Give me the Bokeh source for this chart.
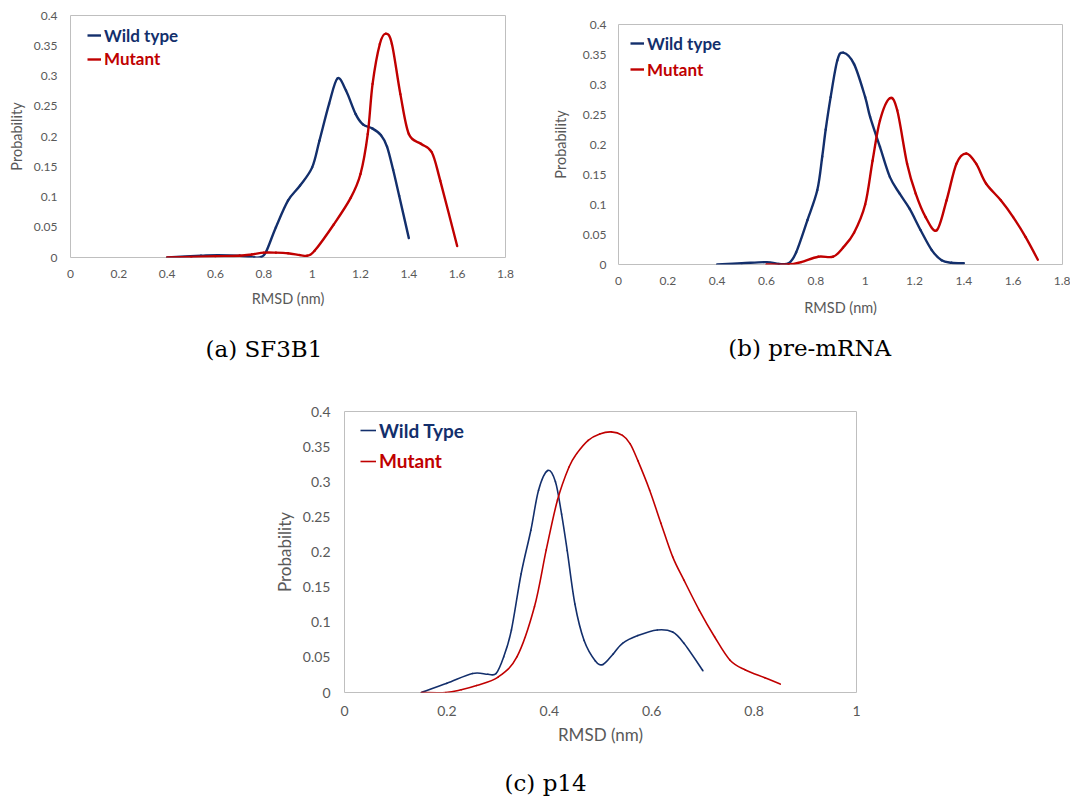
from bokeh.plotting import figure
from bokeh.layouts import column, row
from bokeh.models import FixedTicker, Legend, LegendItem, Title, Range1d
from bokeh.embed import file_html
from bokeh.resources import INLINE

# ---------------- data ----------------
# (a) SF3B1
a_wt_x = [0.40, 0.54, 0.61, 0.70, 0.76, 0.79, 0.81, 0.85, 0.90, 0.95, 1.00, 1.03, 1.07, 1.105, 1.14, 1.18, 1.21, 1.25, 1.285, 1.31, 1.335, 1.36, 1.40]
a_wt_y = [0.000, 0.003, 0.004, 0.003, 0.000, 0.001, 0.010, 0.050, 0.094, 0.119, 0.149, 0.193, 0.254, 0.296, 0.276, 0.237, 0.220, 0.213, 0.202, 0.183, 0.145, 0.102, 0.032]
a_mu_x = [0.40, 0.50, 0.60, 0.70, 0.75, 0.80, 0.85, 0.90, 0.95, 0.98, 1.01, 1.09, 1.16, 1.20, 1.23, 1.25, 1.28, 1.305, 1.33, 1.365, 1.40, 1.45, 1.495, 1.53, 1.60]
a_mu_y = [0.000, 0.001, 0.002, 0.003, 0.005, 0.008, 0.008, 0.007, 0.004, 0.003, 0.011, 0.055, 0.099, 0.138, 0.204, 0.287, 0.353, 0.370, 0.353, 0.270, 0.204, 0.188, 0.174, 0.127, 0.019]

# (b) pre-mRNA
b_wt_x = [0.40, 0.50, 0.60, 0.65, 0.69, 0.72, 0.766, 0.806, 0.826, 0.84, 0.86, 0.887, 0.911, 0.955, 1.00, 1.02, 1.06, 1.10, 1.14, 1.18, 1.225, 1.27, 1.31, 1.35, 1.40]
b_wt_y = [0.000, 0.002, 0.004, 0.001, 0.002, 0.020, 0.074, 0.124, 0.180, 0.225, 0.279, 0.340, 0.353, 0.334, 0.279, 0.246, 0.196, 0.146, 0.118, 0.093, 0.057, 0.024, 0.007, 0.003, 0.002]
b_mu_x = [0.60, 0.69, 0.74, 0.81, 0.87, 0.91, 0.955, 1.00, 1.03, 1.06, 1.10, 1.13, 1.17, 1.205, 1.245, 1.29, 1.33, 1.37, 1.41, 1.45, 1.49, 1.55, 1.60, 1.65, 1.70]
b_mu_y = [0.000, 0.000, 0.004, 0.013, 0.013, 0.028, 0.053, 0.100, 0.173, 0.240, 0.277, 0.257, 0.168, 0.118, 0.079, 0.057, 0.107, 0.168, 0.185, 0.168, 0.135, 0.107, 0.079, 0.046, 0.008]

# (c) p14
c_wt_x = [0.15, 0.20, 0.25, 0.28, 0.296, 0.311, 0.326, 0.345, 0.364, 0.379, 0.397, 0.412, 0.424, 0.435, 0.45, 0.468, 0.49, 0.505, 0.525, 0.543, 0.573, 0.611, 0.641, 0.663, 0.70]
c_wt_y = [0.000, 0.013, 0.027, 0.026, 0.027, 0.051, 0.089, 0.169, 0.231, 0.288, 0.316, 0.300, 0.254, 0.202, 0.126, 0.074, 0.045, 0.040, 0.055, 0.070, 0.081, 0.089, 0.086, 0.070, 0.031]
c_mu_x = [0.15, 0.198, 0.228, 0.258, 0.30, 0.337, 0.371, 0.394, 0.416, 0.4385, 0.4535, 0.476, 0.4985, 0.521, 0.543, 0.558, 0.573, 0.596, 0.618, 0.641, 0.663, 0.693, 0.723, 0.753, 0.783, 0.821, 0.851]
c_mu_y = [0.000, 0.000, 0.004, 0.010, 0.022, 0.051, 0.122, 0.203, 0.274, 0.321, 0.340, 0.359, 0.368, 0.371, 0.366, 0.354, 0.330, 0.288, 0.241, 0.193, 0.160, 0.117, 0.079, 0.046, 0.032, 0.021, 0.012]

y_ticks = [0, 0.05, 0.1, 0.15, 0.2, 0.25, 0.3, 0.35, 0.4]
y_labels = ["0", "0.05", "0.1", "0.15", "0.2", "0.25", "0.3", "0.35", "0.4"]
x_ticks_ab = [0, 0.2, 0.4, 0.6, 0.8, 1.0, 1.2, 1.4, 1.6, 1.8]
x_labels_ab = ["0", "0.2", "0.4", "0.6", "0.8", "1", "1.2", "1.4", "1.6", "1.8"]
x_ticks_c = [0, 0.2, 0.4, 0.6, 0.8, 1.0]
x_labels_c = ["0", "0.2", "0.4", "0.6", "0.8", "1"]

NAVY = "#132f6c"
RED = "#c00000"
GRAY_TXT = "#595959"
FONT = "Lato"


def smooth_segments(xs, ys):
    """Bezier control points for a smoothed line through the read points (Excel-like)."""
    n = len(xs)
    out = {k: [] for k in ("x0", "y0", "x1", "y1", "cx0", "cy0", "cx1", "cy1")}
    for i in range(n - 1):
        xp, yp = (xs[i - 1], ys[i - 1]) if i > 0 else (xs[i], ys[i])
        xn, yn = (xs[i + 2], ys[i + 2]) if i + 2 < n else (xs[i + 1], ys[i + 1])
        out["x0"].append(xs[i]); out["y0"].append(ys[i])
        out["x1"].append(xs[i + 1]); out["y1"].append(ys[i + 1])
        out["cx0"].append(xs[i] + (xs[i + 1] - xp) / 6.0)
        out["cy0"].append(ys[i] + (ys[i + 1] - yp) / 6.0)
        out["cx1"].append(xs[i + 1] - (xn - xs[i]) / 6.0)
        out["cy1"].append(ys[i + 1] - (yn - ys[i]) / 6.0)
    return out


def make_chart(W, H, ox, oy, fl, ft, fr, fb, xmax, xticks, xlabels, series, names,
               tick_fs, title_fs, leg_fs, lw, leg_x, leg_y1, leg_y2, glyph_w, item_h,
               ylab_so, ytitle_so, xlab_so, xtitle_so, caption, cap_left, cap_gap, cap_fs):
    fw = fr - fl
    fh = fb - ft
    p = figure(width=W, height=H, output_backend="svg", toolbar_location=None,
               x_range=Range1d(0, xmax), y_range=Range1d(0, 0.4),
               min_border_left=int(round(fl - ox)), min_border_top=int(round(ft - oy)),
               min_border_right=int(round(ox + W - fr)), min_border_bottom=int(round(oy + H - fb)))
    try:
        p.frame_align = False
    except Exception:
        pass
    p.background_fill_color = "white"
    p.border_fill_color = "white"
    p.outline_line_color = "#bfbfbf"
    p.outline_line_width = 1
    p.grid.visible = False
    for ax in (p.xaxis[0], p.yaxis[0]):
        ax.axis_line_color = None
        ax.major_tick_line_color = None
        ax.minor_tick_line_color = None
        ax.major_tick_out = 0
        ax.major_tick_in = 0
        ax.major_label_text_font = FONT
        ax.major_label_text_font_size = f"{tick_fs}px"
        ax.major_label_text_color = GRAY_TXT
        ax.axis_label_text_font = FONT
        ax.axis_label_text_font_size = f"{title_fs}px"
        ax.axis_label_text_font_style = "normal"
        ax.axis_label_text_color = GRAY_TXT
    p.xaxis.ticker = FixedTicker(ticks=xticks)
    p.xaxis.major_label_overrides = {t: l for t, l in zip(xticks, xlabels)}
    p.yaxis.ticker = FixedTicker(ticks=y_ticks)
    p.yaxis.major_label_overrides = {t: l for t, l in zip(y_ticks, y_labels)}
    p.xaxis.axis_label = "RMSD (nm)"
    p.yaxis.axis_label = "Probability"
    p.yaxis.major_label_standoff = ylab_so
    p.yaxis.axis_label_standoff = ytitle_so
    p.xaxis.major_label_standoff = xlab_so
    p.xaxis.axis_label_standoff = xtitle_so

    proxies = []
    for (xs, ys), col in zip(series, (NAVY, RED)):
        seg = smooth_segments(xs, ys)
        p.bezier(x0=seg["x0"], y0=seg["y0"], x1=seg["x1"], y1=seg["y1"],
                 cx0=seg["cx0"], cy0=seg["cy0"], cx1=seg["cx1"], cy1=seg["cy1"],
                 line_color=col, line_width=lw, line_cap="round")
        proxy = p.line(xs, ys, line_color=col, line_width=lw, visible=False)
        proxies.append(proxy)

    for r, name, col, ly in zip(proxies, names, (NAVY, RED), (leg_y1, leg_y2)):
        leg = Legend(items=[LegendItem(label=name, renderers=[r])],
                     location=(leg_x - fl, fh - (ly - ft) - item_h / 2),
                     label_text_color=col, label_text_font=FONT,
                     label_text_font_style="bold", label_text_font_size=f"{leg_fs}px",
                     glyph_width=glyph_w, glyph_height=item_h, label_height=item_h,
                     label_standoff=3, padding=0, margin=0, spacing=0,
                     border_line_color=None, background_fill_alpha=0)
        p.add_layout(leg, "center")

    # blank gap below the axis title, then the sub-figure caption
    p.add_layout(Title(text=" ", standoff=cap_gap, text_font_size="1px",
                       text_color="white"), "below")
    p.add_layout(Title(text=caption, align="left", offset=cap_left - fl, standoff=0,
                       vertical_align="bottom",
                       text_font="DejaVu Serif", text_font_size=f"{cap_fs}px",
                       text_font_style="normal", text_color="black"), "below")
    return p


pa = make_chart(540, 368, 0, 0, 70, 15.3, 505.3, 256.7, 1.8, x_ticks_ab, x_labels_ab,
                [(a_wt_x, a_wt_y), (a_mu_x, a_mu_y)], ["Wild type", "Mutant"],
                12, 14.5, 17, 2.4, 87, 34.7, 58.3, 14, 24,
                13, 6, 12, 9, "(a) SF3B1", 205, 21, 23)

pb = make_chart(530, 368, 540, 0, 618, 24, 1061.7, 264.3, 1.8, x_ticks_ab, x_labels_ab,
                [(b_wt_x, b_wt_y), (b_mu_x, b_mu_y)], ["Wild type", "Mutant"],
                12, 14.5, 17, 2.4, 630, 43.3, 69.7, 14, 24,
                12, 11, 12, 11, "(b) pre-mRNA", 727.7, 11, 23)

pc = make_chart(1070, 431, 0, 368, 344, 411.3, 856, 692.3, 1.0, x_ticks_c, x_labels_c,
                [(c_wt_x, c_wt_y), (c_mu_x, c_mu_y)], ["Wild Type", "Mutant"],
                14, 17, 19, 1.6, 360, 430.7, 461, 16, 26,
                14, 5, 13, 5, "(c) p14", 504, 17, 23)

layout = column(row(pa, pb, spacing=0), pc, spacing=0)
open("out.html", "w").write(file_html(layout, INLINE))
